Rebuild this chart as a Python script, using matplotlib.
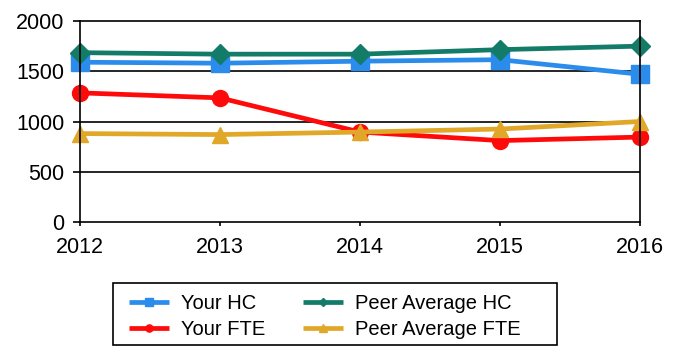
import matplotlib
matplotlib.use("Agg")
import matplotlib.pyplot as plt
from matplotlib.patches import Rectangle

years = ["2012", "2013", "2014", "2015", "2016"]
your_hc = [1590, 1580, 1600, 1615, 1470]
your_fte = [1285, 1235, 895, 810, 845]
peer_hc = [1685, 1670, 1670, 1715, 1750]
peer_fte = [880, 870, 895, 925, 1000]
y_ticks = [0, 500, 1000, 1500, 2000]

plt.rcParams["font.family"] = ["Liberation Sans", "DejaVu Sans"]

W, H = 683, 356
fig = plt.figure(figsize=(W / 100, H / 100), dpi=100)
ax = fig.add_axes([80 / W, 1 - 222 / H, 560 / W, 201 / H])

x = list(range(len(years)))
series = [
    ("Your HC", your_hc, "#2B8CEB", "s", 12.5),
    ("Your FTE", your_fte, "#FF0A0A", "o", 11.5),
    ("Peer Average HC", peer_hc, "#137C68", "D", 10),
    ("Peer Average FTE", peer_fte, "#E1A729", "^", 11.5),
]
for label, vals, color, marker, ms in series:
    ax.plot(x, vals, color=color, lw=3.4, marker=marker, ms=ms,
            label=label, clip_on=False, solid_capstyle="butt")

ax.set_xlim(0, len(years) - 1)
ax.set_ylim(0, 2000)
ax.set_xticks(x)
ax.set_xticklabels(years)
ax.set_yticks(y_ticks)
ax.set_yticklabels([str(v) for v in y_ticks])
for v in y_ticks[1:-1]:
    ax.axhline(v, color="black", lw=1.2, zorder=0.5)
for s in ax.spines.values():
    s.set_linewidth(1.2)
    s.set_color("black")
ax.tick_params(axis="both", labelsize=15.5, width=1.2, colors="black")
ax.tick_params(axis="x", length=3, pad=8)
ax.tick_params(axis="y", length=5, pad=6)

# legend entries placed without a frame; the box is drawn separately
fig.legend(loc="upper left", bbox_to_anchor=(129 / W, 1 - 294 / H),
           ncol=2, fontsize=14.5, markerscale=0.45,
           handlelength=2.0, handletextpad=0.6, columnspacing=1.85,
           labelspacing=0.35, borderpad=0, borderaxespad=0, frameon=False)
fig.patches.append(Rectangle((113 / W, 1 - 345 / H), 444 / W, 62 / H,
                             transform=fig.transFigure, fill=False,
                             edgecolor="black", lw=1.2))

fig.savefig("out.png", dpi=100, facecolor="white")
